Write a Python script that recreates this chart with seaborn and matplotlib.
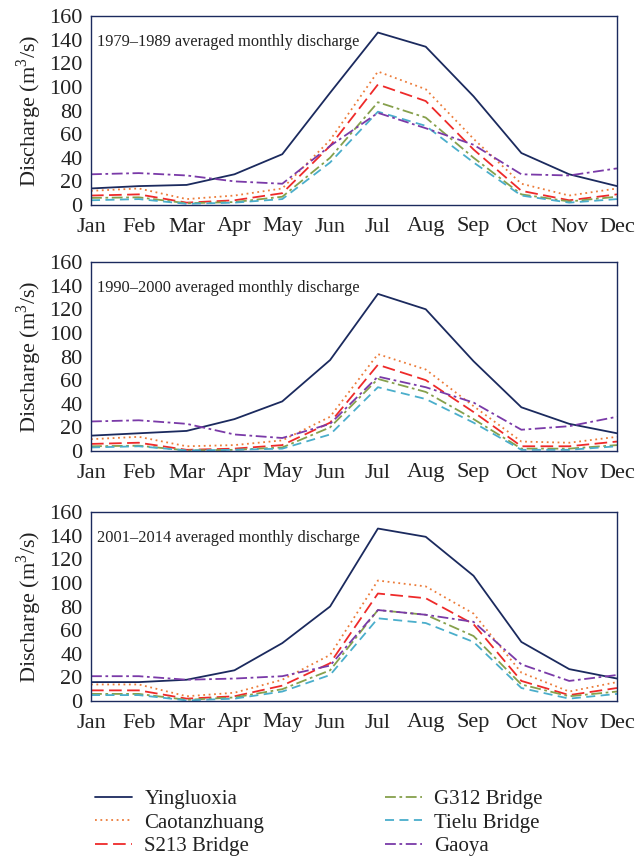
import numpy as np
import pandas as pd
import matplotlib
matplotlib.use("Agg")
import matplotlib.pyplot as plt
import seaborn as sns

months = ["Jan", "Feb", "Mar", "Apr", "May", "Jun", "Jul", "Aug", "Sep", "Oct", "Nov", "Dec"]
stations = ["Yingluoxia", "Caotanzhuang", "S213 Bridge", "G312 Bridge", "Tielu Bridge", "Gaoya"]
periods = ["1979\u20131989", "1990\u20132000", "2001\u20132014"]

# 1979-1989
p1_ying = [14, 16, 17, 26, 43, 95, 146, 134, 92, 44, 26, 16]
p1_caot = [12, 14, 5, 8, 14, 55, 113, 98, 56, 18, 8, 14]
p1_s213 = [8, 9, 2, 4, 10, 50, 102, 88, 47, 12, 4, 9]
p1_g312 = [6, 6.5, 1.5, 2.5, 7, 40, 87, 74, 40, 9, 3, 7]
p1_tielu = [4, 5, 1, 2, 5, 36, 79, 67, 36, 8, 2, 5]
p1_gaoya = [26, 27, 25, 20, 18, 50, 78, 65, 51, 26, 25, 31]

# 1990-2000
p2_ying = [13, 15, 17, 27, 42, 77, 133, 120, 76, 37, 23, 15]
p2_caot = [10, 12, 4, 5, 9, 29, 82, 69, 38, 8, 7, 12]
p2_s213 = [6, 7, 1, 2, 5, 24, 73, 60, 33, 4, 4, 8]
p2_g312 = [4, 4.5, 0.5, 1, 3, 20, 61, 50, 27, 2, 2, 5]
p2_tielu = [3, 4, 0.5, 1, 2, 14, 54, 44, 24, 1, 1, 4]
p2_gaoya = [25, 26, 23, 14, 11, 23, 63, 54, 41, 18, 21, 29]

# 2001-2014
p3_ying = [16, 16, 18, 26, 49, 80, 146, 139, 106, 50, 27, 19]
p3_caot = [14, 14, 4, 7, 18, 39, 102, 97, 74, 24, 8, 16]
p3_s213 = [9, 9, 2, 4, 13, 32, 91, 87, 65, 17, 5, 11]
p3_g312 = [6, 6, 1, 3, 10, 26, 77, 73, 55, 14, 4, 8]
p3_tielu = [5, 5, 0.5, 2, 8, 22, 70, 66, 50, 11, 2, 6]
p3_gaoya = [21, 21, 18, 19, 21, 30, 77, 73, 67, 31, 17, 22]

panels = [
    [p1_ying, p1_caot, p1_s213, p1_g312, p1_tielu, p1_gaoya],
    [p2_ying, p2_caot, p2_s213, p2_g312, p2_tielu, p2_gaoya],
    [p3_ying, p3_caot, p3_s213, p3_g312, p3_tielu, p3_gaoya],
]

colors = ["#1b2a5e", "#ec7c3a", "#ee2a2a", "#86a04c", "#4aaecb", "#7a3aa8"]
dashes = ["-", (0, (1, 2)), (0, (7, 3)), (0, (6, 2, 1.5, 2)), (0, (5, 3)), (0, (6, 2, 1.5, 2))]

sns.set_style("white")
plt.rcParams["font.family"] = ["Liberation Serif", "DejaVu Serif"]
plt.rcParams["mathtext.fontset"] = "custom"
plt.rcParams["mathtext.rm"] = "Liberation Serif"

fig = plt.figure(figsize=(6.42, 8.58), dpi=100)
W, H = 642, 858
bottoms = [205, 451, 701]
frame = "#1b2a5e"

axes = []
for i, vals in enumerate(panels):
    ax = fig.add_axes([91 / W, 1 - bottoms[i] / H, 526 / W, 189 / H])
    axes.append(ax)
    df = pd.DataFrame({"month": np.arange(12)})
    for j, st in enumerate(stations):
        df[st] = vals[j]
        sns.lineplot(data=df, x="month", y=st, ax=ax, color=colors[j],
                     linewidth=1.3, label=st, legend=False)
        ax.lines[-1].set_linestyle(dashes[j])
    ax.set_xlim(0, 11)
    ax.set_ylim(0, 160)
    ax.set_xticks(np.arange(12))
    ax.set_xticklabels(months)
    ax.set_yticks(np.arange(0, 161, 20))
    ax.tick_params(axis="both", labelsize=16, length=3, direction="out",
                   color=frame, pad=3, labelcolor="#222222")
    ax.tick_params(axis="x", pad=6)
    ax.set_xlabel("")
    ax.set_ylabel("Discharge (m$^3$/s)", fontsize=16, labelpad=4, color="#222222")
    for s in ax.spines.values():
        s.set_color(frame)
        s.set_linewidth(1.0)
    ax.text(0.012, 0.86, periods[i] + " averaged monthly discharge",
            transform=ax.transAxes, fontsize=11.8, color="#222222", va="center")

handles = axes[0].lines[:6]
fig.legend(handles, stations, loc="upper left", ncol=2,
           bbox_to_anchor=(85 / W, 1 - 779 / H), frameon=False, borderpad=0,
           fontsize=15, handlelength=1.75, columnspacing=5.8,
           labelspacing=0.2, handletextpad=0.6, labelcolor="#222222")

fig.savefig("out.png", dpi=100)
